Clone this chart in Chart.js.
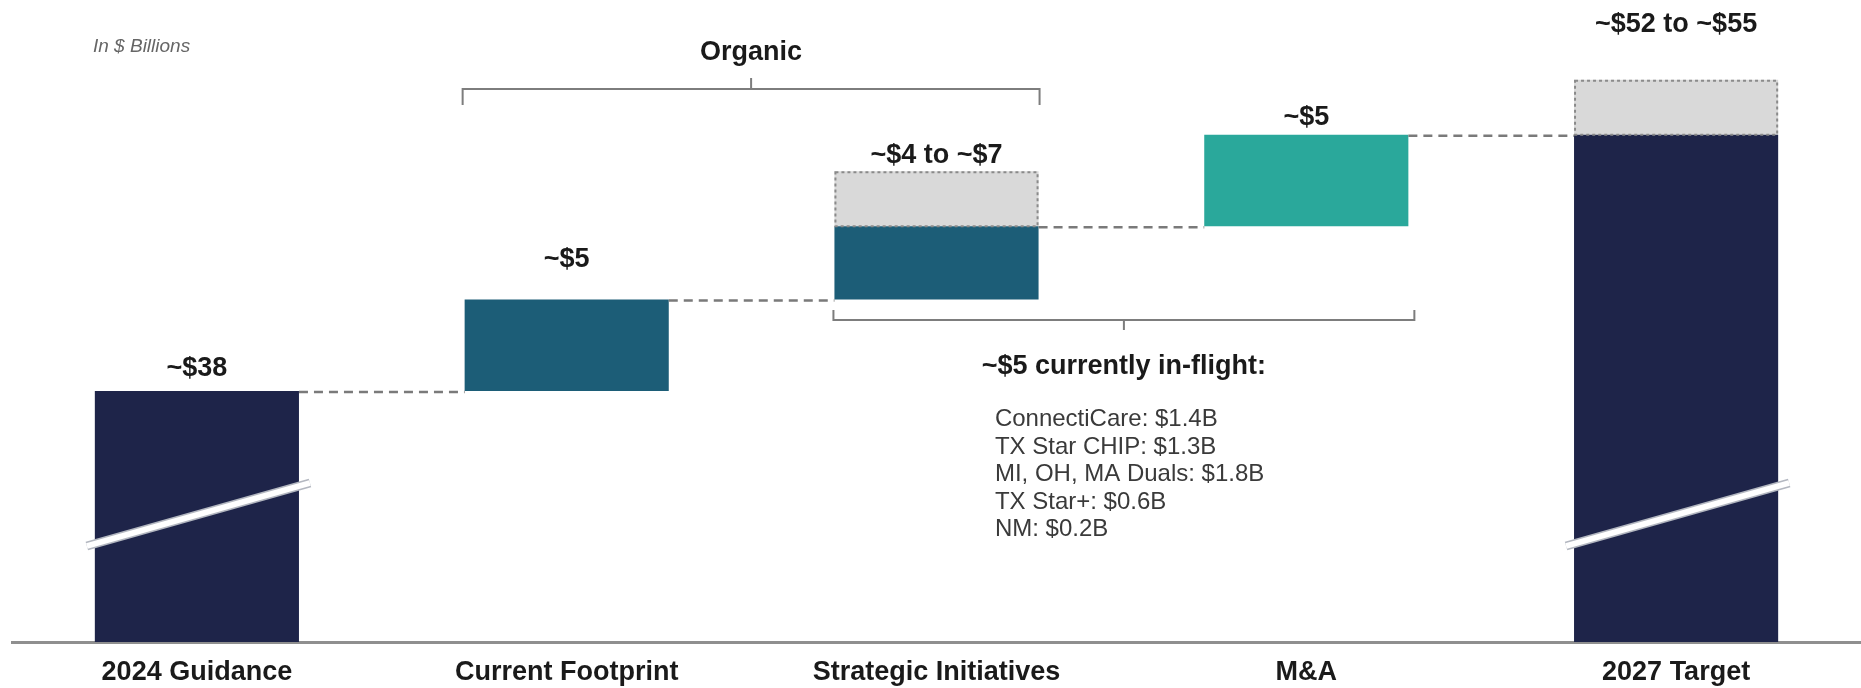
<!DOCTYPE html>
<html>
<head>
<meta charset="utf-8">
<script src="https://cdn.jsdelivr.net/npm/chart.js@4/dist/chart.umd.min.js"></script>
<style>
  html, body { margin: 0; padding: 0; background: #ffffff; }
  #wrap { position: relative; width: 1861px; height: 688px; }
</style>
</head>
<body>
<div id="wrap"><canvas id="bridge" width="1861" height="688"></canvas></div>
<script>
// Revenue bridge, $ billions
const categories = ['2024 Guidance', 'Current Footprint', 'Strategic Initiatives', 'M&A', '2027 Target'];
const stepKinds = ['total', 'step', 'step', 'step', 'total'];
const lowEstimate = [38, 5, 4, 5, 52];
const highEstimate = [38, 5, 7, 5, 55];
const valueLabels = ['~$38', '~$5', '~$4 to ~$7', '~$5', '~$52 to ~$55'];
const inFlightTitle = '~$5 currently in-flight:';
const inFlightItems = [
  'ConnectiCare: $1.4B',
  'TX Star CHIP: $1.3B',
  'MI, OH, MA Duals: $1.8B',
  'TX Star+: $0.6B',
  'NM: $0.2B'
];

// Broken value axis: the visible window starts well above zero
const Y_MIN = 24.3;
const Y_MAX = 58.26;

const barColors = ['#1e2449', '#1c5d77', '#1c5d77', '#2aa89b', '#1e2449'];
const labelLift = [23, 40, 16, 17, 55];
const FONT = '"Liberation Sans", Arial, Helvetica, sans-serif';

// Floating ranges for the solid (low) bars and the grey upside bands
const solidRanges = [];
const upsideRanges = [];
let running = 0;
categories.forEach((c, i) => {
  if (stepKinds[i] === 'total') {
    solidRanges.push([Y_MIN, lowEstimate[i]]);
    upsideRanges.push(highEstimate[i] > lowEstimate[i] ? [lowEstimate[i], highEstimate[i]] : null);
    running = lowEstimate[i];
  } else {
    solidRanges.push([running, running + lowEstimate[i]]);
    upsideRanges.push(highEstimate[i] > lowEstimate[i] ? [running + lowEstimate[i], running + highEstimate[i]] : null);
    running += lowEstimate[i];
  }
});

function barBox(el) {
  const p = el.getProps(['x', 'y', 'base', 'width'], true);
  return {
    x: p.x,
    left: p.x - p.width / 2,
    right: p.x + p.width / 2,
    top: Math.min(p.y, p.base),
    bottom: Math.max(p.y, p.base)
  };
}

const bridgeDecor = {
  id: 'bridgeDecor',
  afterDatasetsDraw(chart) {
    const ctx = chart.ctx;
    const area = chart.chartArea;
    const solid = chart.getDatasetMeta(0).data.map(barBox);
    const upsideMeta = chart.getDatasetMeta(1).data;
    const upside = upsideMeta.map((el, i) => upsideRanges[i] ? barBox(el) : null);

    ctx.save();

    // dotted outline around the grey upside bands
    ctx.strokeStyle = '#8a8a8a';
    ctx.lineWidth = 2;
    ctx.setLineDash([3, 3]);
    upside.forEach(b => {
      if (!b) return;
      ctx.strokeRect(b.left + 1, b.top + 1, b.right - b.left - 2, b.bottom - b.top - 1);
    });

    // dashed connectors between consecutive bars
    ctx.strokeStyle = '#7a7a7a';
    ctx.lineWidth = 2.5;
    ctx.setLineDash([9, 6]);
    for (let i = 0; i < solid.length - 1; i++) {
      const y = solid[i].top + 1;
      ctx.beginPath();
      ctx.moveTo(solid[i].right, y);
      ctx.lineTo(solid[i + 1].left, y);
      ctx.stroke();
    }
    ctx.setLineDash([]);

    // axis-break slashes on the total bars
    solid.forEach((b, i) => {
      if (stepKinds[i] !== 'total') return;
      const x0 = b.left - 8, x1 = b.right + 11;
      const y0 = area.bottom - 96, y1 = area.bottom - 159;
      ctx.lineCap = 'butt';
      ctx.strokeStyle = '#b3b7c0';
      ctx.lineWidth = 9;
      ctx.beginPath(); ctx.moveTo(x0, y0); ctx.lineTo(x1, y1); ctx.stroke();
      ctx.strokeStyle = '#ffffff';
      ctx.lineWidth = 5.5;
      ctx.beginPath(); ctx.moveTo(x0, y0); ctx.lineTo(x1, y1); ctx.stroke();
    });

    // value labels above each bar
    ctx.fillStyle = '#1a1a1a';
    ctx.font = 'bold 27px ' + FONT;
    ctx.textAlign = 'center';
    ctx.textBaseline = 'middle';
    solid.forEach((b, i) => {
      const top = upside[i] ? Math.min(b.top, upside[i].top) : b.top;
      ctx.fillText(valueLabels[i], b.x, top - labelLift[i]);
    });

    // "Organic" bracket over the two organic steps
    const oL = solid[1].left - 2, oR = solid[2].right + 1, oY = 89;
    const oC = (oL + oR) / 2;
    ctx.strokeStyle = '#7d7d7d';
    ctx.lineWidth = 2;
    ctx.beginPath();
    ctx.moveTo(oL, oY + 16); ctx.lineTo(oL, oY); ctx.lineTo(oR, oY); ctx.lineTo(oR, oY + 16);
    ctx.moveTo(oC, oY); ctx.lineTo(oC, oY - 11);
    ctx.stroke();
    ctx.fillStyle = '#1a1a1a';
    ctx.font = 'bold 27px ' + FONT;
    ctx.fillText('Organic', oC, 53);

    // in-flight bracket under strategic initiatives and M&A
    const fL = solid[2].left - 1, fR = solid[3].right + 6, fY = 320;
    const fC = (fL + fR) / 2;
    ctx.beginPath();
    ctx.moveTo(fL, fY - 10); ctx.lineTo(fL, fY); ctx.lineTo(fR, fY); ctx.lineTo(fR, fY - 10);
    ctx.moveTo(fC, fY); ctx.lineTo(fC, fY + 10);
    ctx.stroke();
    ctx.fillText(inFlightTitle, fC, 367);

    ctx.textAlign = 'left';
    ctx.textBaseline = 'alphabetic';
    ctx.fillStyle = '#3a3a3a';
    ctx.font = '24px ' + FONT;
    inFlightItems.forEach((t, i) => {
      ctx.fillText(t, fC - 129, 426 + i * 27.5);
    });

    // units note
    ctx.fillStyle = '#666666';
    ctx.font = 'italic 19px ' + FONT;
    ctx.fillText('In $ Billions', 93, 52);

    ctx.restore();
  }
};

new Chart(document.getElementById('bridge'), {
  type: 'bar',
  data: {
    labels: categories,
    datasets: [
      {
        label: 'Low estimate',
        data: solidRanges,
        backgroundColor: barColors,
        borderWidth: 0,
        grouped: false,
        categoryPercentage: 1,
        barPercentage: 0.552,
        order: 1
      },
      {
        label: 'Upside',
        data: upsideRanges,
        backgroundColor: '#d9d9d9',
        borderWidth: 0,
        grouped: false,
        categoryPercentage: 1,
        barPercentage: 0.552,
        order: 2
      }
    ]
  },
  options: {
    responsive: false,
    animation: false,
    devicePixelRatio: 1,
    layout: { padding: { top: 20, left: 12, right: 0, bottom: 0 } },
    plugins: { legend: { display: false }, tooltip: { enabled: false } },
    scales: {
      x: {
        grid: { display: false, drawTicks: false },
        border: { display: true, color: '#8f8f8f', width: 3 },
        ticks: {
          color: '#1a1a1a',
          font: { family: FONT, size: 27, weight: 'bold' },
          padding: 14,
          maxRotation: 0,
          autoSkip: false
        },
        afterFit(scale) { scale.height = 46; }
      },
      y: {
        display: false,
        min: Y_MIN,
        max: Y_MAX
      }
    }
  },
  plugins: [bridgeDecor]
});
</script>
</body>
</html>
